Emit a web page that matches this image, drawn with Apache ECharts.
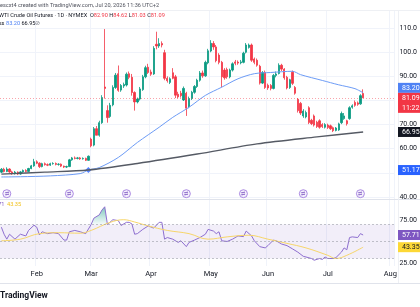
<!DOCTYPE html>
<html>
<head>
<meta charset="utf-8">
<script src="https://cdn.jsdelivr.net/npm/echarts@6/dist/echarts.min.js"></script>
<style>
html,body{margin:0;padding:0;background:#fff;}
#chart{width:420px;height:307px;}
</style>
</head>
<body>
<div id="chart"></div>
<script>
// first trading day shown, weekdays only
var startDay = '2026-01-14';
var dayCount = 145;
var monthNames = ['Jan','Feb','Mar','Apr','May','Jun','Jul','Aug','Sep','Oct','Nov','Dec'];

// daily candles, one entry per trading day
var opens = [50.3,51.5,50.6,51.6,50.4,49.7,50.3,49.5,50.4,51.0,50.6,51.8,52.9,54.6,54.0,52.6,53.8,53.4,53.2,53.8,
  53.9,53.5,53.6,52.8,52.4,52.6,55.4,56.2,56.0,56.2,55.8,56.0,55.2,64.0,61.5,68.3,65.6,70.8,85.6,75.8,
  73.4,78.2,85.4,91.1,84.3,86.0,86.4,91.1,89.6,83.3,79.4,80.6,84.5,89.8,93.8,91.8,91.0,103.3,102.6,103.6,
  99.8,89.2,87.5,91.5,89.8,82.6,83.0,80.2,83.0,77.4,80.8,83.4,85.8,88.4,91.4,90.2,95.6,100.5,103.6,102.2,
  98.8,95.8,92.6,92.8,89.8,92.6,96.0,95.9,95.6,95.8,100.0,102.0,103.0,97.2,96.7,94.2,87.2,91.7,86.3,86.2,
  85.0,90.4,91.2,94.6,93.0,89.6,85.4,91.7,85.4,80.5,78.8,73.6,73.2,77.0,71.8,73.6,71.0,71.6,70.0,68.9,
  69.8,69.5,68.7,67.6,67.8,70.8,72.5,71.6,72.5,77.2,79.2,79.0,78.6,82.90];
var closes = [51.5,50.6,51.6,50.4,49.7,50.3,49.5,50.4,51.0,50.6,51.8,52.9,54.6,54.0,52.6,53.8,53.4,53.2,53.8,53.9,
  53.5,53.6,52.8,52.4,52.6,55.4,56.2,56.0,56.2,55.8,56.0,55.2,56.9,61.2,68.3,65.6,70.8,81.2,85.0,72.9,
  78.0,85.4,90.5,84.2,86.2,86.6,90.9,89.6,83.3,79.4,80.6,84.8,89.8,93.6,91.6,90.9,101.6,102.6,103.6,103.0,
  89.2,88.2,89.0,89.2,82.2,81.5,82.0,85.0,76.8,80.8,83.4,85.8,88.4,91.4,90.2,95.8,100.6,103.7,102.2,96.5,
  95.8,89.8,89.4,89.8,92.6,95.2,95.4,95.5,96.0,99.6,103.0,103.0,96.7,95.8,94.6,87.2,91.6,85.4,85.2,85.0,
  90.4,91.0,94.6,93.0,89.4,85.2,88.6,87.1,83.0,75.8,74.8,75.6,75.0,70.9,70.4,69.8,69.2,68.9,69.2,70.0,
  68.8,68.3,67.5,68.6,70.3,74.6,73.6,70.4,77.0,77.8,78.0,78.4,82.0,81.09];
var lows = [49.9,50.2,50.3,50.0,49.2,49.3,49.1,49.2,50.0,50.2,50.4,51.5,52.5,53.6,52.0,52.3,53.0,52.8,52.9,53.4,
  53.1,53.0,52.4,52.0,52.0,52.4,55.0,55.6,55.6,55.4,55.5,54.9,55.0,60.6,61.0,65.6,65.0,70.3,80.8,70.8,
  72.8,77.6,84.8,83.6,83.6,85.2,85.8,88.8,82.0,75.8,78.8,80.0,84.0,89.2,91.0,90.2,90.6,101.2,101.8,102.0,
  88.4,87.4,86.8,88.8,81.0,80.9,81.2,79.8,73.6,76.8,80.2,82.8,85.2,87.8,89.4,89.8,95.0,100.0,101.0,95.8,
  95.0,85.4,88.6,89.0,89.2,92.0,94.6,94.8,95.0,95.4,99.5,101.5,96.0,95.0,94.0,86.6,86.8,84.8,84.4,84.2,
  84.6,89.6,90.8,92.2,88.6,84.6,84.8,86.4,82.4,75.0,74.0,72.8,72.6,70.2,69.8,69.2,68.6,68.3,68.6,68.4,
  68.2,67.8,66.9,67.2,67.4,70.2,72.0,69.6,72.0,76.6,77.4,77.8,78.2,81.03];
var highs = [52.0,52.1,52.3,51.9,50.9,50.8,50.6,50.8,51.4,51.5,52.1,53.3,55.8,55.2,54.4,54.2,54.3,53.9,54.2,54.4,
  54.3,54.0,53.9,53.0,53.0,55.8,56.6,56.8,56.6,56.6,56.4,56.3,57.2,64.6,69.0,69.4,71.6,82.2,109.6,78.0,
  79.0,86.3,91.4,94.5,86.8,87.4,91.6,92.0,91.0,83.8,81.2,85.6,90.6,94.4,95.2,92.8,102.5,108.5,105.8,104.5,
  101.0,90.0,89.6,93.4,90.6,83.6,84.0,85.8,83.6,81.6,84.0,86.4,89.0,92.2,92.4,96.5,101.4,105.0,104.6,103.0,
  99.6,96.4,93.4,93.6,93.2,95.8,96.8,96.6,96.8,100.2,103.8,103.6,103.6,97.8,97.4,94.8,92.2,92.4,87.0,86.8,
  91.0,92.0,95.4,95.2,93.4,90.2,89.0,92.4,86.0,81.0,79.4,76.4,75.8,77.6,72.4,74.2,71.6,72.2,70.6,70.6,
  70.4,70.0,69.2,69.0,70.8,75.4,74.8,72.0,77.6,78.4,80.0,79.6,82.6,84.62];

// moving averages (bar index, price)
var fastMaIdx = [0,7,18,29,32,36,43,50,58,63,69,75,81,87,93,99,107,110,118,124,130,133];
var fastMaVal = [48.3,48.4,48.75,49.7,51.17,52.2,56.4,62.6,68.9,73.0,77.2,82.1,85.5,89.0,91.1,91.6,92.1,90.7,88.3,86.5,84.9,83.2];
var slowMaIdx = [0,16,32,50,72,94,116,133];
var slowMaVal = [49.5,50.3,51.2,53.9,57.8,62.0,64.9,66.95];
var crossIdx = [32];
var crossVal = [51.17];
var rollIdx = [2,25,46,68,89,111,132];

// RSI pane
var rsiIdx = [0,1,2,3,5,7,9,10,12,13,14,15,17,19,21,23,24,25,27,29,31,33,34,36,37,38,39,41,43,44,46,47,48,49,50,52,54,56,58,59,
  60,61,63,65,66,68,69,71,73,75,76,78,79,80,81,83,85,87,89,90,92,93,95,97,98,100,101,103,105,107,109,111,112,114,115,117,118,119,120,122,
  123,125,126,127,128,129,131,132,133];
var rsiVal = [66.9,58.6,52.8,58.6,52.8,58.6,56.6,63.1,69.2,66.9,57.8,61.5,59.3,60.4,59.3,51.7,51.7,61.5,63.1,61.5,59.3,70,77.5,81.4,87.1,90.9,70,75.7,74.6,68.9,72.6,72.6,70.7,58.6,59.3,64.3,68.4,65.8,72.6,72.6,
  52.8,54.7,52.8,49,50.9,44,49,51.7,54.7,58.6,64.3,62.3,59.3,61.5,50.9,50.1,52.8,56.6,55.8,62.3,56.6,50.9,44,42.5,45.2,51.7,50.9,47.1,45.2,41.4,37.5,32.6,31.8,30,28,30,28.9,31.8,30,30,
  31.1,37.5,42.5,40.3,54.7,55.5,54.7,59.3,57.71];
var rsiMaIdx = [0,7,14,21,29,33,40,45,49,54,61,69,76,83,91,98,105,112,120,123,127,133];
var rsiMaVal = [50.9,52.8,59.3,60.4,59.8,63.1,72.6,75.7,73.0,68.4,63.1,59.3,52.8,55.5,57.4,52.8,47.8,42.5,33.8,30.0,33.8,43.35];
var rsiBand = [30,70];
var rsiMid = 50;

var priceTicks = [40,50,60,70,80,90,100,110];
var rsiTicks = [25,75];
var lastPrice = 81.09;

(function(){
	var dates = [];
	var d = new Date(startDay + 'T00:00:00Z');
	while(dates.length < dayCount){
		var wd = d.getUTCDay();
		if(wd !== 0 && wd !== 6){
			dates.push(d.toISOString().slice(0,10));
		}
		d.setUTCDate(d.getUTCDate() + 1);
	}
	var monthStart = function(i){
		return i > 0 && dates[i].slice(5,7) !== dates[i-1].slice(5,7);
	};
	var pairs = function(xs, ys){
		return xs.map(function(x, k){ return [x, ys[k]]; });
	};
	var candleData = opens.map(function(o, i){
		return [o, closes[i], lows[i], highs[i]];
	});
	var obIdx = [], obVal = [];
	rsiIdx.forEach(function(x, k){
		if(x >= 33 && x <= 39){ obIdx.push(x); obVal.push(rsiVal[k]); }
	});
	var font = 'Roboto, sans-serif';
	var priceMin = 39.17, priceMax = 117.5;

	var chart = echarts.init(document.getElementById('chart'), null, {renderer:'canvas'});
	var option = {
		animation: false,
		backgroundColor: '#fff',
		grid: [
			{left: 0, right: 22, top: 10, height: 189},
			{left: 0, right: 22, top: 200, height: 66}
		],
		xAxis: [{
			type: 'category', gridIndex: 0, data: dates, boundaryGap: true,
			axisLine: {show: false}, axisTick: {show: false}, axisLabel: {show: false},
			splitLine: {show: true, interval: monthStart, lineStyle: {color: '#f0f3fa', width: 1}}
		}, {
			type: 'category', gridIndex: 1, data: dates, boundaryGap: true,
			axisLine: {show: false}, axisTick: {show: false},
			axisLabel: {
				interval: monthStart, margin: 4, fontSize: 7.5, color: '#131722', fontFamily: font,
				formatter: function(v){ return monthNames[+v.slice(5,7) - 1]; }
			},
			splitLine: {show: true, interval: monthStart, lineStyle: {color: '#f0f3fa', width: 1}}
		}],
		yAxis: [{
			type: 'value', gridIndex: 0, position: 'right', min: priceMin, max: priceMax,
			axisLine: {show: false},
			axisTick: {show: false, customValues: priceTicks},
			axisLabel: {
				customValues: priceTicks, margin: 5, fontSize: 7, color: '#131722', fontFamily: font,
				formatter: function(v){ return v >= 100 ? v.toFixed(1) : v.toFixed(2); }
			},
			splitLine: {show: true, lineStyle: {color: '#f0f3fa', width: 1}}
		}, {
			type: 'value', gridIndex: 1, position: 'right', min: 21.2, max: 98.9,
			axisLine: {show: false},
			axisTick: {show: false, customValues: rsiTicks},
			axisLabel: {
				customValues: rsiTicks, margin: 5, fontSize: 7, color: '#131722', fontFamily: font,
				formatter: function(v){ return v.toFixed(2); }
			},
			splitLine: {show: false}
		}],
		series: [{
			name: 'CL', type: 'candlestick', xAxisIndex: 0, yAxisIndex: 0,
			data: candleData, barWidth: 1.8,
			itemStyle: {color: '#089981', color0: '#F23645', borderColor: '#089981', borderColor0: '#F23645', borderWidth: 0.8},
			markLine: {
				silent: true, symbol: 'none', label: {show: false},
				lineStyle: {color: '#F23645', type: [1, 2], width: 1, opacity: 0.45},
				data: [{yAxis: lastPrice}]
			}
		}, {
			name: 'MA fast', type: 'line', xAxisIndex: 0, yAxisIndex: 0,
			data: pairs(fastMaIdx, fastMaVal), smooth: 0.3, symbol: 'none',
			lineStyle: {color: '#6d9cf6', width: 1}
		}, {
			name: 'MA slow', type: 'line', xAxisIndex: 0, yAxisIndex: 0,
			data: pairs(slowMaIdx, slowMaVal), smooth: 0.3, symbol: 'none',
			lineStyle: {color: '#555a64', width: 1.4}
		}, {
			name: 'cross', type: 'scatter', xAxisIndex: 0, yAxisIndex: 0,
			data: pairs(crossIdx, crossVal), symbol: 'diamond', symbolSize: 6,
			itemStyle: {color: '#2962ff'}
		}, {
			name: 'rolls', type: 'scatter', xAxisIndex: 0, yAxisIndex: 0,
			data: rollIdx.map(function(x){ return [x, priceMin + 2.2]; }),
			symbol: 'circle', symbolSize: 8,
			itemStyle: {color: '#f1ecfb', borderColor: '#9a72dc', borderWidth: 1},
			label: {show: true, formatter: '⇄', fontSize: 5, color: '#7e57c2', position: 'inside'}
		}, {
			name: 'RSI', type: 'line', xAxisIndex: 1, yAxisIndex: 1,
			data: pairs(rsiIdx, rsiVal), symbol: 'none',
			lineStyle: {color: '#8e6fd0', width: 1},
			markArea: {
				silent: true,
				itemStyle: {color: 'rgba(126,87,194,0.1)'},
				data: [[{yAxis: rsiBand[0]}, {yAxis: rsiBand[1]}]]
			},
			markLine: {
				silent: true, symbol: 'none', label: {show: false},
				lineStyle: {color: '#9598a1', type: [2, 2], width: 0.8, opacity: 0.7},
				data: [{yAxis: rsiBand[1]}, {yAxis: rsiMid}, {yAxis: rsiBand[0]}]
			}
		}, {
			name: 'RSI overbought', type: 'line', xAxisIndex: 1, yAxisIndex: 1,
			data: pairs(obIdx, obVal), symbol: 'none',
			lineStyle: {width: 0},
			areaStyle: {
				origin: rsiBand[1],
				color: new echarts.graphic.LinearGradient(0, 0, 0, 1, [
					{offset: 0, color: 'rgba(8,153,129,0.75)'},
					{offset: 1, color: 'rgba(8,153,129,0.05)'}
				])
			},
			z: 1
		}, {
			name: 'RSI MA', type: 'line', xAxisIndex: 1, yAxisIndex: 1,
			data: pairs(rsiMaIdx, rsiMaVal), smooth: 0.4, symbol: 'none',
			lineStyle: {color: '#f7d66a', width: 1}
		}]
	};
	chart.setOption(option);

	var py = function(v){ return chart.convertToPixel({yAxisIndex: 0}, v); };
	var ry = function(v){ return chart.convertToPixel({yAxisIndex: 1}, v); };
	var box = function(top, h, txt, bg, fg){
		return [{
			type: 'rect', z: 100, shape: {x: 398, y: top, width: 24, height: h},
			style: {fill: bg}
		}, {
			type: 'text', z: 101, x: 402, y: top + h / 2,
			style: {text: txt, fill: fg, font: '7px ' + font, textVerticalAlign: 'middle', lineHeight: 10}
		}];
	};
	var redTop = py(lastPrice) - 5;
	var g = [];
	// separators
	g.push({type: 'line', z: 90, shape: {x1: 0, y1: 10.5, x2: 420, y2: 10.5}, style: {stroke: '#eef0f4', lineWidth: 1}});
	g.push({type: 'line', z: 90, shape: {x1: 0, y1: 199.5, x2: 420, y2: 199.5}, style: {stroke: '#e0e3eb', lineWidth: 1}});
	g.push({type: 'line', z: 90, shape: {x1: 0, y1: 283.5, x2: 420, y2: 283.5}, style: {stroke: '#e0e3eb', lineWidth: 1}});
	g.push({type: 'line', z: 90, shape: {x1: 398.5, y1: 10, x2: 398.5, y2: 283}, style: {stroke: '#eef0f4', lineWidth: 1}});
	// hide the month label that runs into the price scale
	g.push({type: 'rect', z: 95, shape: {x: 399, y: 267, width: 21, height: 15}, style: {fill: '#fff'}});
	g = g.concat(box(redTop - 10, 10, fastMaVal[fastMaVal.length - 1].toFixed(2), '#4f82f4', '#fff'));
	g = g.concat(box(redTop, 20, lastPrice.toFixed(2) + '\n11:22', '#F23645', '#fff'));
	g = g.concat(box(py(slowMaVal[slowMaVal.length - 1]) - 5, 10, slowMaVal[slowMaVal.length - 1].toFixed(2), '#131722', '#fff'));
	g = g.concat(box(py(crossVal[0]) - 5, 10, crossVal[0].toFixed(2), '#2962ff', '#fff'));
	g = g.concat(box(ry(rsiVal[rsiVal.length - 1]) - 5, 10, rsiVal[rsiVal.length - 1].toFixed(2), '#7E57C2', '#fff'));
	g = g.concat(box(ry(rsiMaVal[rsiMaVal.length - 1]) - 5, 10, rsiMaVal[rsiMaVal.length - 1].toFixed(2), '#FDD835', '#131722'));
	// legend texts (cut at the left edge like the snapshot)
	var small = '5.6px ' + font;
	g.push({type: 'text', z: 101, x: 0, y: 5.5, style: {text: 'escxt4 created with TradingView.com, Jul 20, 2026 11:36 UTC+2', fill: '#50535e', font: small, textVerticalAlign: 'middle'}});
	g.push({type: 'text', z: 101, x: -1, y: 16, style: {
		text: '{n|WTI Crude Oil Futures · 1D · NYMEX}  {n|O}{r|82.90} {n|H}{r|84.62} {n|L}{r|81.03} {n|C}{r|81.09}',
		font: small, textVerticalAlign: 'middle',
		rich: {n: {fill: '#131722', font: small}, r: {fill: '#F23645', font: small}}
	}});
	g.push({type: 'text', z: 101, x: 4.5, y: 24, style: {text: 'MA Cross', fill: '#131722', font: small, textAlign: 'right', textVerticalAlign: 'middle'}});
	g.push({type: 'text', z: 101, x: 6, y: 24, style: {
		text: '{b|83.20} {k|66.95}', font: small, textVerticalAlign: 'middle',
		rich: {b: {fill: '#4f82f4', font: small}, k: {fill: '#131722', font: small}}
	}});
	g.push({type: 'text', z: 101, x: 35, y: 24, style: {text: '⊘', fill: '#787b86', font: small, textVerticalAlign: 'middle'}});
	g.push({type: 'text', z: 101, x: 4.5, y: 204.5, style: {text: 'RSI 14 close 57.71', fill: '#7E57C2', font: small, textAlign: 'right', textVerticalAlign: 'middle'}});
	g.push({type: 'text', z: 101, x: 7, y: 204.5, style: {text: '43.35', fill: '#f2c21b', font: small, textVerticalAlign: 'middle'}});
	g.push({type: 'text', z: 101, x: 0, y: 296, style: {text: 'TradingView', fill: '#131722', font: 'bold 8.5px ' + font, textVerticalAlign: 'middle'}});
	chart.setOption({graphic: g});
})();
</script>
</body>
</html>
